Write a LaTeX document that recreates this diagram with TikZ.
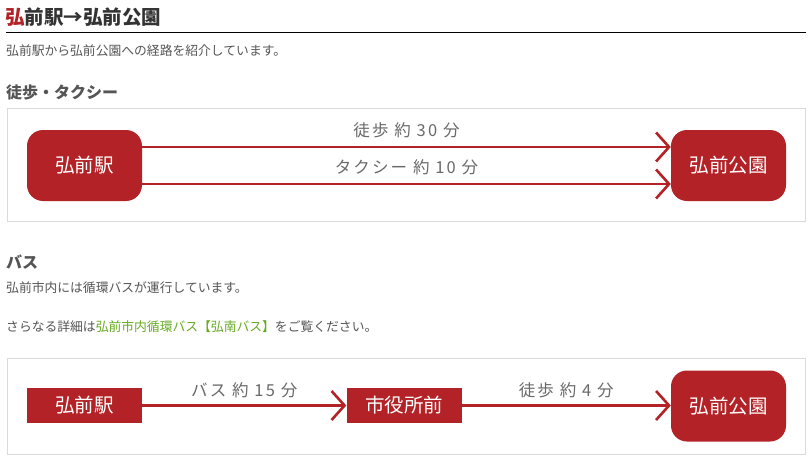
\documentclass[tikz,border=0pt]{standalone}
\usepackage{fontspec}
\setmainfont{Noto Sans CJK JP}
\newfontfamily\spacedfont[LetterSpace=13]{Noto Sans CJK JP}
\usetikzlibrary{arrows.meta,positioning}
\definecolor{hred}{RGB}{178,34,38}
\definecolor{htext}{RGB}{85,85,85}
\definecolor{hlabel}{RGB}{105,105,105}
\definecolor{hlink}{RGB}{102,170,34}
\definecolor{hframe}{RGB}{218,218,218}

\tikzset{
  station/.style={fill=hred,text=white,rounded corners=16pt,minimum width=115pt,minimum height=71pt,inner sep=0pt,font=\fontsize{19.5}{19.5}\selectfont},
  stopbox/.style={fill=hred,text=white,minimum width=115pt,minimum height=35pt,inner sep=0pt,font=\fontsize{19.5}{19.5}\selectfont},
  route/.style={draw=hred,line width=2.6pt,-{Straight Barb[length=13pt,width=29pt,line width=2.6pt]}},
  rlabel/.style={text=hlabel,font=\spacedfont\fontsize{16.5}{16.5}\selectfont,inner sep=0pt},
  body/.style={anchor=west,text=htext,font=\fontsize{12.8}{12.8}\selectfont,inner sep=0pt},
  head/.style={anchor=west,font=\fontsize{16}{16}\selectfont\bfseries,inner sep=0pt}
}

\begin{document}
\begin{tikzpicture}[x=1pt,y=-1pt]
        \useasboundingbox[fill=white] (0,0) rectangle (812,463);
        % heading
        \node[head,text=black!80,font=\fontsize{19.5}{19.5}\selectfont\bfseries] (title) at (5,17) {\textcolor{hred}{弘}前駅→弘前公園};
        \draw[black,line width=1pt] (6,32.5) -- (806,32.5);
        \node[body] (intro) at (6,51) {弘前駅から弘前公園への経路を紹介しています。};
        \node[head,text=htext] (walkhead) at (6,92) {徒歩・タクシー};

        % walk / taxi
        \draw[hframe,line width=1pt] (7,108.5) rectangle (805.5,221);
        \node[station] (eki) at (84.5,165.5) {弘前駅};
        \node[station] (koen) at (728.5,165.5) {弘前公園};
        \draw[route] ([yshift=18.5pt]eki.east) -- ([yshift=18.5pt]koen.west) node[rlabel,midway,above=8pt] {徒歩 約 30 分};
        \draw[route] ([yshift=-18.5pt]eki.east) -- ([yshift=-18.5pt]koen.west) node[rlabel,midway,above=8pt] {タクシー 約 10 分};

        % bus
        \node[head,text=htext] (bushead) at (6,262) {バス};
        \node[body] (busline) at (6,288) {弘前市内には循環バスが運行しています。};
        \node[body] (more) at (6,327) {さらなる詳細は\textcolor{hlink}{弘前市内循環バス【弘南バス】}をご覧ください。};

        \draw[hframe,line width=1pt] (7,358) rectangle (805.5,454);
        \node[stopbox] (eki2) at (84.5,405.5) {弘前駅};
        \node[stopbox] (shiyakusho) at (404,405.5) {市役所前};
        \node[station] (koen2) at (728.5,406) {弘前公園};
        \draw[route] (eki2.east) -- (shiyakusho.west) node[rlabel,midway,above=6pt] {バス 約 15 分};
        \draw[route] (shiyakusho.east) -- (shiyakusho.east -| koen2.west) node[rlabel,midway,above=6pt] {徒歩 約 4 分};
\end{tikzpicture}
\end{document}
